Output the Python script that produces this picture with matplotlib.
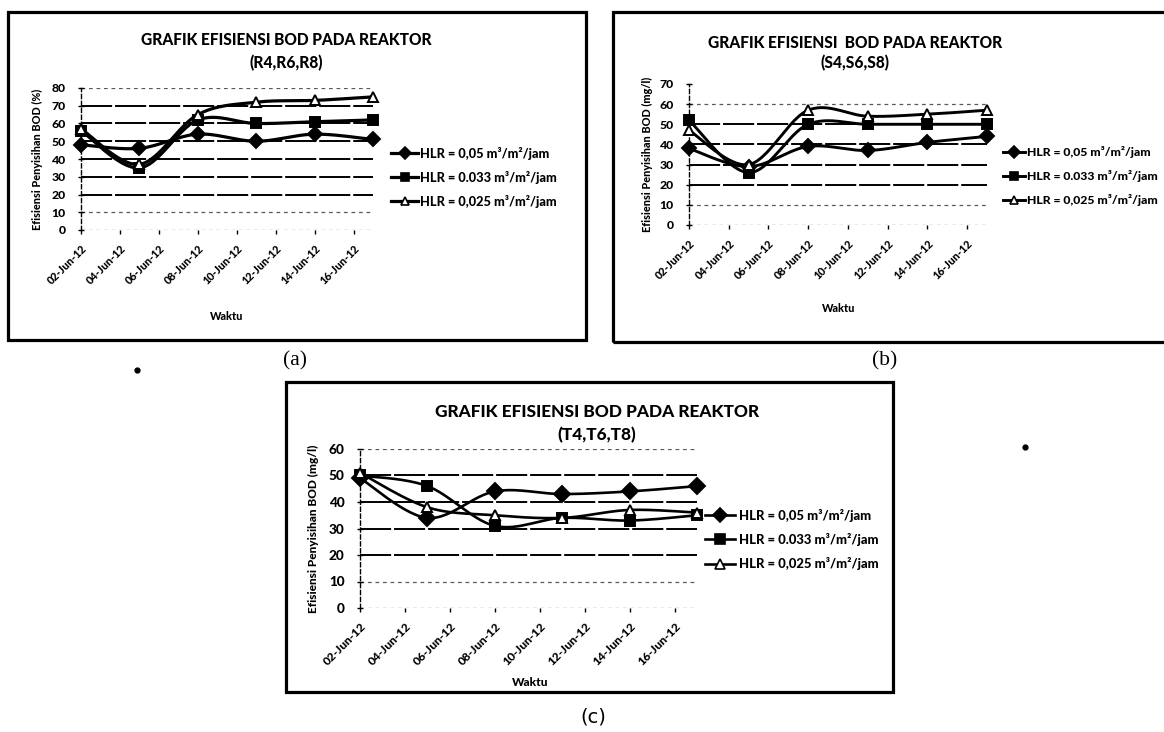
import numpy as np
import matplotlib
matplotlib.use("Agg")
import matplotlib.pyplot as plt
import matplotlib.dates as mdates
from matplotlib.lines import Line2D
from matplotlib.patches import Rectangle
from datetime import datetime

W, H, DPI = 1164, 732, 100

# ---- data ---------------------------------------------------------------
sample_dates = ["2012-06-02", "2012-06-05", "2012-06-08",
                "2012-06-11", "2012-06-14", "2012-06-17"]
tick_dates = ["2012-06-02", "2012-06-04", "2012-06-06", "2012-06-08",
              "2012-06-10", "2012-06-12", "2012-06-14", "2012-06-16"]
tick_labels = ["02-Jun-12", "04-Jun-12", "06-Jun-12", "08-Jun-12",
               "10-Jun-12", "12-Jun-12", "14-Jun-12", "16-Jun-12"]

legend_labels = ["HLR = 0,05 m³/m²/jam",
                 "HLR = 0.033 m³/m²/jam",
                 "HLR = 0,025 m³/m²/jam"]

# reactor R4, R6, R8 (%)
r_hlr_050 = [48, 46, 54, 50, 54, 51]
r_hlr_033 = [56, 35, 62, 60, 61, 62]
r_hlr_025 = [57, 37, 65, 72, 73, 75]

# reactor S4, S6, S8
s_hlr_050 = [38, 29, 39, 37, 41, 44]
s_hlr_033 = [52, 26, 50, 50, 50, 50]
s_hlr_025 = [47, 30, 57, 54, 55, 57]

# reactor T4, T6, T8
t_hlr_050 = [49, 34, 44, 43, 44, 46]
t_hlr_033 = [50, 46, 31, 34, 33, 35]
t_hlr_025 = [51, 38, 35, 34, 37, 36]

FONT = "Lato"

fig = plt.figure(figsize=(W / DPI, H / DPI), dpi=DPI)
fig.patch.set_facecolor("white")


def fx(x):
    return x / W


def fy(y):
    return 1 - y / H


def to_num(ds):
    return mdates.date2num([datetime.strptime(d, "%Y-%m-%d") for d in ds])


def smooth(x, y, n=30):
    """Catmull-Rom curve through the points (spreadsheet-style smoothed line)."""
    x = np.asarray(x, float)
    y = np.asarray(y, float)
    px = np.concatenate([[x[0]], x, [x[-1]]])
    py = np.concatenate([[y[0]], y, [y[-1]]])
    t = np.linspace(0, 1, n, endpoint=False)
    xs, ys = [], []
    for i in range(1, len(px) - 2):
        for arr, out in ((px, xs), (py, ys)):
            p0, p1, p2, p3 = arr[i - 1], arr[i], arr[i + 1], arr[i + 2]
            out.append(0.5 * (2 * p1 + (-p0 + p2) * t
                              + (2 * p0 - 5 * p1 + 4 * p2 - p3) * t ** 2
                              + (-p0 + 3 * p1 - 3 * p2 + p3) * t ** 3))
    xs.append([x[-1]])
    ys.append([y[-1]])
    return np.concatenate(xs), np.concatenate(ys)


STYLES = [
    dict(marker="D", mfc="black", mec="black"),
    dict(marker="s", mfc="black", mec="black"),
    dict(marker="^", mfc="white", mec="black"),
]


def border(l, t, r, b, lw=3.2):
    rect = Rectangle((fx(l), fy(b)), fx(r) - fx(l), fy(t) - fy(b),
                     transform=fig.transFigure, fill=False,
                     edgecolor="black", linewidth=lw * 0.72)
    fig.add_artist(rect)


def panel(box, plot, ymax, series, title2, ylabel, title_xy, title_fs,
          waktu_xy, ylabel_x, legend_x, legend_y, fs_tick, fs_x, fs_leg,
          lw_line, msize, faint, hidden=(),
          title1="GRAFIK EFISIENSI BOD PADA REAKTOR"):
    border(*box)
    l, t, r, b = plot
    ax = fig.add_axes([fx(l), fy(b), fx(r) - fx(l), fy(t) - fy(b)])
    ax.set_facecolor("none")
    xs = to_num(sample_dates)
    ax.set_xlim(xs[0], xs[-1])
    ax.set_ylim(0, ymax)
    yt = np.arange(0, ymax + 1, 10)
    for v in yt:
        if v in hidden:
            continue
        if v in faint:
            ax.axhline(v, color="0.35", lw=0.9, ls=(0, (3, 3)), zorder=1)
        else:
            ax.axhline(v, color="black", lw=1.4, ls=(0, (16, 1.5)), zorder=1)
    for vals, st in zip(series, STYLES):
        sx, sy = smooth(xs, vals)
        ax.plot(sx, sy, color="black", lw=lw_line, zorder=3,
                solid_capstyle="round")
        ax.plot(xs, vals, ls="none", ms=msize, mew=1.4, zorder=4,
                clip_on=False, **st)
    for s in ("top", "right", "bottom"):
        ax.spines[s].set_visible(False)
    ax.spines["left"].set_linestyle((0, (3, 2)))
    ax.spines["left"].set_linewidth(1.0)
    ax.set_yticks(yt)
    ax.set_yticklabels([str(v) for v in yt], fontfamily=FONT,
                       fontweight="black", fontsize=fs_tick)
    ax.tick_params(axis="y", length=4, width=1, pad=9, direction="inout")
    ax.set_xticks(to_num(tick_dates))
    ax.set_xticklabels(tick_labels, rotation=45, ha="right", va="top",
                       rotation_mode="anchor", fontfamily=FONT,
                       fontweight="black", fontsize=fs_x)
    ax.tick_params(axis="x", length=3, width=1, pad=6)

    fig.text(fx(title_xy[0]), fy(title_xy[1]), title1, ha="center",
             va="center", fontfamily=FONT, fontweight="black",
             fontsize=title_fs)
    fig.text(fx(title_xy[0]), fy(title_xy[2]), title2, ha="center",
             va="center", fontfamily=FONT, fontweight="black",
             fontsize=title_fs)
    fig.text(fx(waktu_xy[0]), fy(waktu_xy[1]), "Waktu", ha="center",
             va="center", fontfamily=FONT, fontweight="black",
             fontsize=fs_x)
    fig.text(fx(ylabel_x), fy((t + b) / 2), ylabel, rotation=90,
             ha="center", va="center", fontfamily=FONT, fontweight="black",
             fontsize=fs_x)

    x0, x1, xt = legend_x
    for lab, st, yy in zip(legend_labels, STYLES, legend_y):
        ln = Line2D([fx(x0), fx((x0 + x1) / 2), fx(x1)], [fy(yy)] * 3,
                    transform=fig.transFigure, color="black", lw=lw_line,
                    markevery=[1], ms=msize * 0.85, mew=1.2, **st)
        fig.add_artist(ln)
        fig.text(fx(xt), fy(yy), lab, ha="left", va="center",
                 fontfamily=FONT, fontweight="black", fontsize=fs_leg)
    return ax


# (a) reactors R4, R6, R8
panel(box=(8, 12, 586, 340), plot=(81, 88, 373, 230), ymax=80,
      series=[r_hlr_050, r_hlr_033, r_hlr_025], title2="(R4,R6,R8)",
      ylabel="Efisiensi Penyisihan BOD (%)", title_xy=(286, 40, 63),
      title_fs=11.2, waktu_xy=(227, 316), ylabel_x=37,
      legend_x=(391, 418, 420), legend_y=(153, 177, 201),
      fs_tick=8.8, fs_x=7.8, fs_leg=9.2, lw_line=2.3, msize=7.5,
      faint=(0, 10, 80))

# (b) reactors S4, S6, S8
panel(box=(613, 12, 1172, 342), plot=(689, 84, 987, 225), ymax=70,
      series=[s_hlr_050, s_hlr_033, s_hlr_025], title2="(S4,S6,S8)",
      ylabel="Efisiensi Penyisihan BOD (mg/l)", title_xy=(855, 43, 63),
      title_fs=11.2, waktu_xy=(839, 308), ylabel_x=647,
      legend_x=(1003, 1025, 1027), legend_y=(152, 176, 200),
      fs_tick=8.8, fs_x=7.8, fs_leg=8.8, lw_line=2.1, msize=7.5,
      faint=(0, 10, 60), hidden=(70,),
      title1="GRAFIK EFISIENSI  BOD PADA REAKTOR")

# (c) reactors T4, T6, T8
panel(box=(286, 382, 893, 692), plot=(360, 449, 697, 608), ymax=60,
      series=[t_hlr_050, t_hlr_033, t_hlr_025], title2="(T4,T6,T8)",
      ylabel="Efisiensi Penyisihan BOD (mg/l)", title_xy=(597, 412, 435),
      title_fs=12.4, waktu_xy=(530, 682), ylabel_x=313,
      legend_x=(705, 735, 739), legend_y=(515, 539, 564),
      fs_tick=9.8, fs_x=8.6, fs_leg=9.4, lw_line=1.9, msize=7.8,
      faint=(0, 10, 60))

# sub-figure captions
fig.text(fx(295), fy(361), "(a)", ha="center", va="center",
         fontfamily="Liberation Serif", fontsize=15.5)
fig.text(fx(885), fy(361), "(b)", ha="center", va="center",
         fontfamily="Liberation Serif", fontsize=15.5)
fig.text(fx(593), fy(717), "(c)", ha="center", va="center",
         fontfamily="DejaVu Sans", fontsize=14)

# stray specks on the page
fig.add_artist(Line2D([fx(137)], [fy(370)], transform=fig.transFigure,
                      marker="o", ms=3.5, color="black", ls="none"))
fig.add_artist(Line2D([fx(1025)], [fy(447)], transform=fig.transFigure,
                      marker="o", ms=3.5, color="black", ls="none"))

fig.savefig("out.png", dpi=DPI, facecolor="white")
